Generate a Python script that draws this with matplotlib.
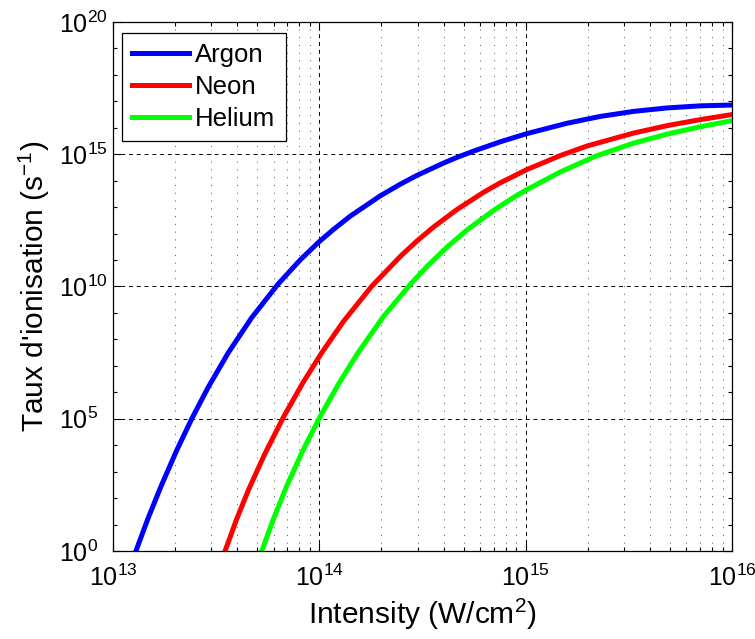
import numpy as np
import matplotlib
matplotlib.use('Agg')
import matplotlib.pyplot as plt
import matplotlib.ticker as ticker

plt.rcParams['font.family'] = ['Liberation Sans', 'DejaVu Sans']
plt.rcParams['mathtext.fontset'] = 'custom'
plt.rcParams['mathtext.rm'] = 'Liberation Sans'
plt.rcParams['mathtext.it'] = 'Liberation Sans:italic'

# log10 of intensity (W/cm^2) and of ionisation rate (s^-1)
argon_logI = [13.111, 13.171, 13.236, 13.309, 13.381, 13.462, 13.559, 13.672,
              13.801, 13.908, 14.000, 14.069, 14.150, 14.296, 14.393, 14.473,
              14.603, 14.667, 14.748, 14.877, 15.006, 15.200, 15.362, 15.523,
              15.685, 15.847, 16.000]
argon_logW = [0.0, 1.26, 2.51, 3.81, 4.99, 6.20, 7.50, 8.82,
              10.10, 11.01, 11.70, 12.16, 12.66, 13.43, 13.87, 14.20,
              14.67, 14.88, 15.12, 15.47, 15.78, 16.17, 16.43, 16.62,
              16.75, 16.83, 16.86]

neon_logI = [13.543, 13.600, 13.656, 13.735, 13.826, 13.918, 14.012, 14.117,
             14.254, 14.393, 14.473, 14.554, 14.667, 14.796, 14.877, 15.003,
             15.168, 15.297, 15.523, 15.685, 15.847, 16.000]
neon_logW = [0.0, 1.22, 2.30, 3.66, 5.06, 6.33, 7.50, 8.68,
             10.01, 11.14, 11.72, 12.25, 12.91, 13.56, 13.92, 14.41,
             14.95, 15.31, 15.80, 16.08, 16.31, 16.50]

helium_logI = [13.721, 13.777, 13.842, 13.919, 14.003, 14.095, 14.189, 14.310,
               14.441, 14.522, 14.619, 14.716, 14.845, 14.942, 15.003, 15.168,
               15.340, 15.523, 15.685, 15.847, 16.000]
helium_logW = [0.0, 1.20, 2.46, 3.78, 5.07, 6.34, 7.51, 8.86,
               10.08, 10.76, 11.49, 12.14, 12.88, 13.37, 13.65, 14.33,
               14.93, 15.42, 15.76, 16.04, 16.27]

gases = [
    ('Argon', argon_logI, argon_logW, (0, 0, 1)),
    ('Neon', neon_logI, neon_logW, (1, 0, 0)),
    ('Helium', helium_logI, helium_logW, (0, 1, 0)),
]

fig = plt.figure(figsize=(7.55, 6.39), dpi=100)
ax = fig.add_axes([0.1497, 0.1377, 0.8198, 0.8279])

for nom, logI, logW, couleur in gases:
    ax.plot(10 ** np.array(logI), 10 ** np.array(logW), color=couleur,
            linewidth=3.6, label=nom, solid_joinstyle='round')

ax.set_xscale('log')
ax.set_yscale('log')
ax.set_xlim(1e13, 1e16)
ax.set_ylim(1e0, 1e20)

ax.xaxis.set_major_locator(ticker.FixedLocator([1e13, 1e14, 1e15, 1e16]))
ax.xaxis.set_minor_locator(ticker.LogLocator(base=10.0, subs=np.arange(2, 10), numticks=20))
ax.xaxis.set_minor_formatter(ticker.NullFormatter())
ax.yaxis.set_major_locator(ticker.FixedLocator([1e0, 1e5, 1e10, 1e15, 1e20]))
ax.yaxis.set_minor_locator(ticker.FixedLocator([10.0 ** k for k in range(21) if k % 5]))
ax.yaxis.set_minor_formatter(ticker.NullFormatter())
ax.xaxis.set_major_formatter(ticker.LogFormatterSciNotation())
ax.yaxis.set_major_formatter(ticker.LogFormatterSciNotation())

# grille style MATLAB : tirets pour les decades, pointilles pour les sous-decades
ax.grid(True, which='major', axis='both', color='black', linestyle=(0, (4, 4)), linewidth=0.7)
ax.grid(True, which='minor', axis='x', color='0.35', linestyle=(0, (1, 7)), linewidth=0.7)
ax.set_axisbelow(True)

ax.tick_params(which='both', direction='in', top=True, right=True, width=0.8, labelsize=18)
ax.tick_params(which='major', length=6)
ax.tick_params(which='minor', length=3)
ax.tick_params(axis='x', which='major', pad=10)
ax.tick_params(axis='y', which='major', pad=39)
for sp in ax.spines.values():
    sp.set_linewidth(0.9)

ax.set_xlabel('Intensity (W/cm$^2$)', fontsize=21.5, labelpad=4)
ax.set_ylabel("Taux d'ionisation (s$^{-1}$)", fontsize=21.5, labelpad=5)

leg = ax.legend(loc='upper left', bbox_to_anchor=(0.0146, 0.979), borderaxespad=0,
                fontsize=18.5, handlelength=2.2, handletextpad=0.25, labelspacing=0.3,
                borderpad=0.4, fancybox=False, framealpha=1, edgecolor='black')
leg.get_frame().set_linewidth(0.9)

# etiquettes de l'axe y alignees a gauche, comme sous MATLAB
fig.canvas.draw()
for lab in ax.get_yticklabels():
    lab.set_horizontalalignment('left')

fig.savefig('out.png', dpi=100)
